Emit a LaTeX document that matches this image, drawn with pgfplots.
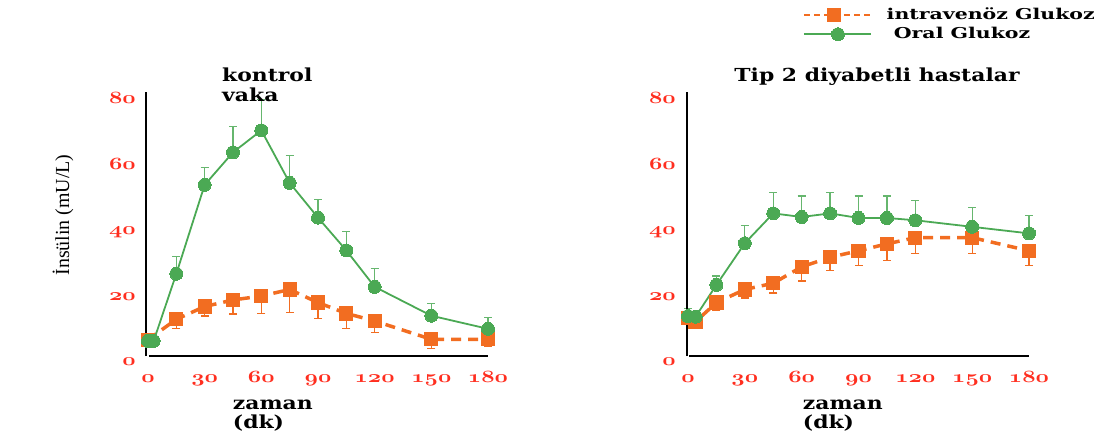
\documentclass[border=0pt]{standalone}
\usepackage{fontspec}
\usepackage{graphicx}
\setmainfont{Liberation Serif}
\newfontfamily\dvs{DejaVu Serif}
\usepackage{pgfplots}
\usepackage{pgfplotstable}
\pgfplotsset{compat=1.18}
\definecolor{org}{HTML}{F26D21}
\definecolor{grn}{HTML}{4BA954}
\definecolor{tred}{HTML}{FF2E1F}

\pgfplotstableread{
t v e
0 6.2 0
15 12.4 2.9
30 16.3 2.9
45 18.3 4.3
60 19.5 5.3
75 21.5 7
90 17.5 4.8
105 14.2 4.7
120 11.9 3.4
150 6.3 2.9
180 6.3 2.3
}\ivL
\pgfplotstableread{
t v e
0 5.8 0
3 5.8 0
15 26.3 5.2
30 53.4 5.4
45 63.3 8
60 70 9.3
75 54 8.3
90 43.4 5.6
105 33.4 5.7
120 22.3 5.7
150 13.5 3.7
180 9.5 3.5
}\orL
\pgfplotstableread{
t v e
0 12.7 0
4 11.7 0
15 17.5 2.3
30 21.5 2.6
45 23.4 3
60 28.4 4.3
75 31.3 4.1
90 33.3 4.5
105 35.4 5
120 37.3 4.9
150 37.3 4.9
180 33.3 4.5
}\ivR
\pgfplotstableread{
t v e
0 13.4 2.2
4 13.2 0
15 22.9 2.7
30 35.6 5.3
45 44.7 6.4
60 43.6 6.4
75 44.7 6.4
90 43.3 6.7
105 43.3 6.7
120 42.6 6.1
150 40.6 5.8
180 38.6 5.4
}\orR

\pgfplotsset{
  panel/.style={
    scale only axis, width=340bp, height=262.4bp,
    xmin=0, xmax=180, ymin=0, ymax=80, clip=false,
    axis line style={draw=none}, major tick length=0pt,
    xtick={0,30,60,90,120,150,180}, ytick={0,20,40,60,80},
    xticklabels={{$\mathnormal{0}$},{$\mathnormal{30}$},{$\mathnormal{60}$},{$\mathnormal{90}$},{$\mathnormal{120}$},{$\mathnormal{150}$},{$\mathnormal{180}$}},
    yticklabels={{$\mathnormal{0}$},{$\mathnormal{20}$},{$\mathnormal{40}$},{$\mathnormal{60}$},{$\mathnormal{80}$}},
    tick label style={font=\fontsize{17.5}{20}\selectfont\boldmath, text=tred, inner sep=0pt},
    xticklabel style={anchor=base, yshift=-23bp, xscale=1.35},
    yticklabel style={anchor=base east, xshift=-12bp, yshift=-6bp, xscale=1.35},
  },
  ivstyle/.style={color=org, line width=3.5bp, dash pattern=on 10bp off 7bp,
    mark=square*, mark size=6.6bp, mark options={solid, line width=0pt, fill=org},
    error bars/.cd, y dir=minus, y explicit,
    error bar style={line width=1.2bp, solid, color=org},
    error mark options={rotate=90, mark size=4bp, line width=1.2bp, solid, color=org}},
  orstyle/.style={color=grn, line width=1.8bp,
    mark=*, mark size=6.5bp, mark options={solid, line width=0pt, fill=grn},
    error bars/.cd, y dir=plus, y explicit,
    error bar style={line width=1.2bp, color=grn!85},
    error mark options={rotate=90, mark size=4bp, line width=1.2bp, color=grn!85}},
}
\newcommand\ttl[1]{\scalebox{1.22}[1]{#1}}
\newcommand\lgd[1]{\scalebox{1.37}[1]{#1}}

\begin{document}
\begin{tikzpicture}[x=1bp,y=1bp]
\path[use as bounding box] (0,0) rectangle (1104,441);

\begin{axis}[panel, at={(148bp,81bp)}, anchor=south west]
\addplot[ivstyle] table[x=t, y=v, y error=e] {\ivL};
\addplot[orstyle] table[x=t, y=v, y error=e] {\orL};
\draw[line width=2bp] (axis cs:-0.8,1.2) -- (axis cs:-0.8,81.7);
\draw[line width=2bp] (axis cs:0.5,1.2) -- (axis cs:180,1.2);
\end{axis}

\begin{axis}[panel, at={(688bp,81bp)}, anchor=south west, width=341bp,
  legend style={draw=none, fill=none, at={(0.337,1.345)}, anchor=north west,
    inner sep=0pt, font=\dvs\bfseries\fontsize{15}{18}\selectfont,
    nodes={inner sep=0pt, text height=12bp, text depth=4bp},
    row sep=3bp,
    /tikz/every odd column/.append style={column sep=15bp}},
  legend cell align=left]
\addplot[legend image code/.code={\draw[color=org, line width=1.6bp, dash pattern=on 6bp off 4bp, mark=square*, mark size=6.6bp, mark options={solid, fill=org, line width=0pt}, mark repeat=2, mark phase=2] plot coordinates {(0bp,0bp)(30bp,0bp)(67bp,0bp)};}, ivstyle] table[x=t, y=v, y error=e] {\ivR};
\addlegendentry{\lgd{intravenöz Glukoz}}
\addplot[legend image code/.code={\draw[color=grn, line width=1.6bp, mark=*, mark size=6.5bp, mark options={solid, fill=grn, line width=0pt}, mark repeat=2, mark phase=2] plot coordinates {(0bp,0bp)(34bp,0bp)(67bp,0bp)};}, orstyle] table[x=t, y=v, y error=e] {\orR};
\addlegendentry{\lgd{\ Oral Glukoz}}
\draw[line width=2bp] (axis cs:-0.7,1.2) -- (axis cs:-0.7,81.7);
\draw[line width=2bp] (axis cs:0.5,1.2) -- (axis cs:180,1.2);
\end{axis}

\begin{scope}[every node/.style={inner sep=0pt}]
\node[anchor=base west, font=\dvs\bfseries\fontsize{18}{22}\selectfont] at (222,359.3) {\ttl{kontrol}};
\node[anchor=base west, font=\dvs\bfseries\fontsize{18}{22}\selectfont] at (222,339.3) {\ttl{vaka}};
\node[anchor=base, font=\dvs\bfseries\fontsize{18}{22}\selectfont] at (877,359.3) {\ttl{Tip 2 diyabetli hastalar}};
\node[anchor=base west, font=\dvs\bfseries\fontsize{18}{22}\selectfont] at (232.7,31) {\ttl{zaman}};
\node[anchor=base west, font=\dvs\bfseries\fontsize{18}{22}\selectfont] at (232.7,12) {\ttl{(dk)}};
\node[anchor=base west, font=\dvs\bfseries\fontsize{18}{22}\selectfont] at (802.7,31) {\ttl{zaman}};
\node[anchor=base west, font=\dvs\bfseries\fontsize{18}{22}\selectfont] at (802.7,12) {\ttl{(dk)}};
\node[rotate=90, font=\fontsize{20}{24}\selectfont] at (63,226) {İnsülin (mU/L)};
\end{scope}
\end{tikzpicture}
\end{document}
